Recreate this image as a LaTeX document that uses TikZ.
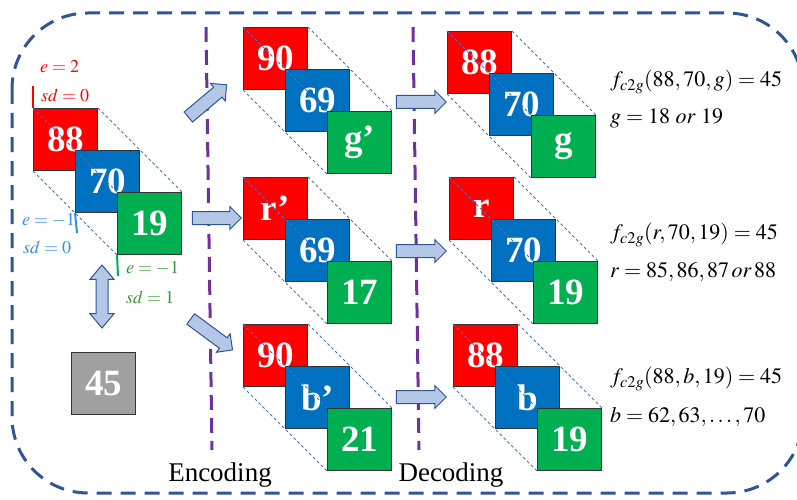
\documentclass[tikz,border=0pt]{standalone}
\usepackage{mathptmx}
\usepackage{fontspec}
\setmainfont{Liberation Serif}
\usetikzlibrary{shapes.arrows}
\definecolor{boxred}{HTML}{FF0000}
\definecolor{boxblue}{HTML}{0070C0}
\definecolor{boxgreen}{HTML}{00B050}
\definecolor{boxgray}{HTML}{A0A0A0}
\definecolor{guideblue}{HTML}{4472C4}
\definecolor{frameblue}{HTML}{2F5597}
\definecolor{phasepurple}{HTML}{7030A0}
\definecolor{arrowfill}{HTML}{B4C7E7}
\definecolor{lblblue}{HTML}{2E8FF0}
\definecolor{lblgreen}{HTML}{339933}
\newcommand{\sqtrio}[6]{%
\node[sq,fill=boxred] (#1r) at (#2,#3) {#4};
\node[sq,fill=boxblue] (#1b) at (#2+42,#3+42) {#5};
\node[sq,fill=boxgreen] (#1g) at (#2+84,#3+84) {#6};
\draw[guide] (#1r.north west) -- (#1g.north west);
\draw[guide] (#1r.north east) -- (#1g.north east);
\draw[guide] (#1r.south west) -- (#1g.south west);}

\begin{document}
\begin{tikzpicture}[x=1pt,y=-1pt,
  sq/.style={draw=black!80, line width=1, anchor=north west, minimum width=64,
    minimum height=62, inner sep=0, text=white, font=\fontsize{37}{37}\selectfont\bfseries},
  guide/.style={guideblue, line width=0.8, dash pattern=on 3 off 2.5},
  outer/.style={frameblue, line width=3, dash pattern=on 15 off 9, rounded corners=76},
  phase/.style={phasepurple, line width=3, dash pattern=on 15 off 8},
  blockarrow/.style={shape=single arrow, draw=frameblue, fill=arrowfill, line width=1,
    inner xsep=0, inner ysep=6, single arrow head extend=5, single arrow head indent=0},
  twoway/.style={shape=double arrow, draw=frameblue, fill=arrowfill, line width=1,
    inner xsep=0, inner ysep=5.5, double arrow head extend=6, double arrow head indent=0,
    double arrow tip angle=80},
  lbl/.style={anchor=west, inner sep=0, font=\fontsize{18}{20}\selectfont},
  eqn/.style={anchor=west, inner sep=0, font=\fontsize{22}{26}\selectfont},
  caption/.style={inner sep=0, font=\fontsize{27}{30}\selectfont}]
\useasboundingbox (0,0) rectangle (797,500);
\draw[outer] (12,13) rectangle (803,493);
\draw[phase] (206,27) -- (212,450);
\draw[phase] (413,27) -- (419,450);

\sqtrio{org}{33}{108}{88}{70}{19}
\sqtrio{encA}{243}{27}{90}{69}{g’}
\sqtrio{encB}{243}{177}{r’}{69}{17}
\sqtrio{encC}{243}{324}{90}{b’}{21}
\sqtrio{decA}{447}{31}{88}{70}{g}
\sqtrio{decB}{449}{177}{r}{70}{19}
\sqtrio{decC}{453}{324}{88}{b}{19}
\node[sq, fill=boxgray] (avg) at (71,352) {45};

\draw[boxred, line width=2] (33,86) -- (orgr.north west);
\draw[lblblue, line width=2] (orgb.south west) -- (77,233);
\draw[boxgreen, line width=2] (orgg.south west) -- (118,276);
\node[lbl, text=boxred] (er) at (40,67) {$e=2$};
\node[lbl, text=boxred] (sdr) at (41,95) {$sd=0$};
\node[lbl, text=lblblue] (eb) at (22,220) {$e=-1$};
\node[lbl, text=lblblue] (sdb) at (23,247) {$sd=0$};
\node[lbl, text=lblgreen] (eg) at (126,268) {$e=-1$};
\node[lbl, text=lblgreen] (sdg) at (126,297) {$sd=1$};

\coordinate (encAt) at (186,119); \coordinate (encAh) at (224,87);
\coordinate (encBt) at (189,218); \coordinate (encBh) at (238,218);
\coordinate (encCt) at (188,317); \coordinate (encCh) at (230,348);
\coordinate (decAt) at (393,102); \coordinate (decAh) at (443,102);
\coordinate (decBt) at (393,251); \coordinate (decBh) at (443,251);
\coordinate (decCt) at (393,397); \coordinate (decCh) at (443,397);
\coordinate (avgt) at (102,265); \coordinate (avgh) at (102,328);
\path (encAt) -- node[blockarrow, sloped, minimum height=50] (encAarr) {} (encAh);
\path (encBt) -- node[blockarrow, sloped, minimum height=49] (encBarr) {} (encBh);
\path (encCt) -- node[blockarrow, sloped, minimum height=52] (encCarr) {} (encCh);
\path (decAt) -- node[blockarrow, sloped, minimum height=50] (decAarr) {} (decAh);
\path (decBt) -- node[blockarrow, sloped, minimum height=50] (decBarr) {} (decBh);
\path (decCt) -- node[blockarrow, sloped, minimum height=50] (decCarr) {} (decCh);
\path (avgt) -- node[twoway, sloped, minimum height=63] (avgarr) {} (avgh);

\node[eqn] (fA) at (610,82) {$f_{c2g}(88,70,g)=45$};
\node[eqn] (vA) at (610,118) {$g=18\ \mathit{or}\ 19$};
\node[eqn] (fB) at (610,235) {$f_{c2g}(r,70,19)=45$};
\node[eqn] (vB) at (610,272) {$r=85,86,87\,\mathit{or}\,88$};
\node[eqn] (fC) at (610,379) {$f_{c2g}(88,b,19)=45$};
\node[eqn] (vC) at (610,417) {$b=62,63,\ldots,70$};

\node[caption] (enc) at (220,475) {Encoding};
\node[caption] (dec) at (451,475) {Decoding};
\end{tikzpicture}
\end{document}
